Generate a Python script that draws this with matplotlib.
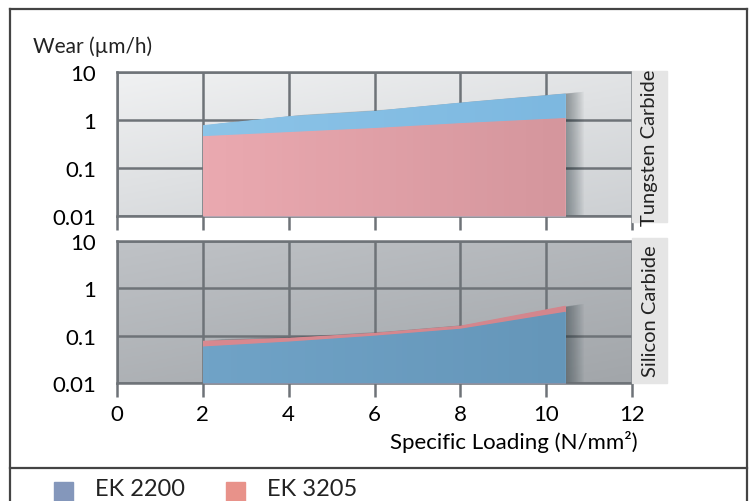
import numpy as np
import matplotlib.pyplot as plt
import matplotlib as mpl
from matplotlib.patches import Rectangle
from matplotlib.lines import Line2D

mpl.rcParams.update({
    "font.family": ["Lato", "DejaVu Sans"],
    "font.size": 15,
    "text.color": "#222222",
})

# ---- data ----
load = [2, 4, 6, 8, 10.45]
series_names = ["EK 2200", "EK 3205"]
panel_names = ["Tungsten Carbide", "Silicon Carbide"]

tc_ek2200 = [0.78, 1.2, 1.55, 2.3, 3.55]
tc_ek3205 = [0.46, 0.56, 0.68, 0.86, 1.1]

sic_ek2200 = [0.059, 0.075, 0.1, 0.14, 0.32]
sic_ek3205 = [0.078, 0.09, 0.115, 0.163, 0.43]

x_ticks = [0, 2, 4, 6, 8, 10, 12]
y_ticks = [0.01, 0.1, 1, 10]
y_ticklabels = ["0.01", "0.1", "1", "10"]

legend_colors = ["#8497bb", "#e8928a"]

# ---- figure ----
W, H = 749, 502
fig = plt.figure(figsize=(W / 100, H / 100), dpi=100)
fig.patch.set_facecolor("white")

grid_c = "#6e7378"


def fx(px):
    return px / W


def fy(py):
    return 1 - py / H


def setup_panel(ax, bg_top, bg_bot):
    # gradient background
    g = np.linspace(0, 1, 64)
    gx, gy = np.meshgrid(g, g)
    t = 0.6 * gy + 0.4 * gx
    cmap = mpl.colors.LinearSegmentedColormap.from_list("bg", [bg_top, bg_bot])
    ax.imshow(t, cmap=cmap, extent=[0, 1, 0, 1], transform=ax.transAxes,
              aspect="auto", zorder=0, origin="upper")
    ax.set_yscale("log")
    ax.set_xlim(0, 12)
    ax.set_ylim(0.01, 10)
    ax.set_xticks(x_ticks)
    ax.set_yticks(y_ticks)
    ax.set_yticklabels(y_ticklabels)
    ax.yaxis.set_minor_locator(mpl.ticker.NullLocator())
    ax.grid(True, color=grid_c, lw=1.8, zorder=1)
    for s in ["top", "left", "bottom"]:
        ax.spines[s].set_color(grid_c)
        ax.spines[s].set_linewidth(1.8)
    ax.spines["right"].set_visible(False)
    ax.tick_params(axis="x", direction="out", length=10, width=1.8, color=grid_c,
                   labelsize=16, pad=5)
    ax.tick_params(axis="y", length=0, labelsize=16, pad=15)


def shadow(ax, x, y):
    xs = np.array(x, dtype=float)
    for k in range(1, 16):
        ax.fill_between(xs + k * 0.028, 0.01, np.array(y) * (1 + 0.008 * k),
                        color="#1a2a30", alpha=0.03, lw=0, zorder=2)


def grad_area(ax, x, y, c_left, c_right, z):
    poly = ax.fill_between(x, 0.01, y, color=c_left, lw=0, zorder=z)
    cmap = mpl.colors.LinearSegmentedColormap.from_list("a", [c_left, c_right])
    img = ax.imshow(np.linspace(0, 1, 64)[None, :], cmap=cmap, aspect="auto",
                    extent=[x[0] / 12, x[-1] / 12, 0, 1], transform=ax.transAxes,
                    zorder=z + 0.1)
    img.set_clip_path(poly.get_paths()[0], poly.get_transform())
    return poly


# top panel: tungsten carbide
ax1 = fig.add_axes([fx(117), fy(217), fx(632 - 117), (217 - 73) / H])
setup_panel(ax1, "#f0f1f2", "#cdd0d3")
shadow(ax1, load, tc_ek2200)
grad_area(ax1, load, tc_ek2200, "#8cc4e8", "#7db8e0", 3)
grad_area(ax1, load, tc_ek3205, "#eaa9b0", "#d5969d", 4)
ax1.tick_params(axis="x", labelbottom=False)

# bottom panel: silicon carbide
ax2 = fig.add_axes([fx(117), fy(384), fx(632 - 117), (384 - 242) / H])
setup_panel(ax2, "#bfc2c6", "#a2a6aa")
shadow(ax2, load, sic_ek3205)
grad_area(ax2, load, sic_ek3205, "#d98990", "#d3868d", 3)
grad_area(ax2, load, sic_ek2200, "#70a3c7", "#6596b9", 4)
ax2.set_xticklabels([str(v) for v in x_ticks])
ax2.set_xlabel("Specific Loading (N/mm\u00b2)", fontsize=16)
ax2.xaxis.set_label_coords(1.01, -0.41)
ax2.xaxis.label.set_horizontalalignment("right")
ax2.xaxis.label.set_verticalalignment("center")

# side label strips
for (y0, y1), name in zip([(72, 223), (239, 384)], panel_names):
    fig.patches.append(Rectangle((fx(632), fy(y1)), fx(667 - 632), (y1 - y0) / H,
                                 transform=fig.transFigure, color="#e5e5e5",
                                 zorder=0))
    fig.text(fx(650), fy((y0 + y1) / 2), name, rotation=90, ha="center",
             va="center", fontsize=14.5)

fig.text(fx(33), fy(47), "Wear (\u00b5m/h)", ha="left", va="center", fontsize=15)

# outer frame
frame_c = "#444444"
for xs, ys in [([10, 10], [10, 502]), ([747, 747], [10, 502]),
               ([10, 747], [10, 10]), ([10, 747], [469, 469])]:
    fig.add_artist(Line2D([fx(v) for v in xs], [fy(v) for v in ys],
                          color=frame_c, lw=1.6, transform=fig.transFigure))

# legend
x_pos = [54, 226]
for xp, name, col in zip(x_pos, series_names, legend_colors):
    fig.patches.append(Rectangle((fx(xp), fy(503)), fx(19), 20 / H,
                                 transform=fig.transFigure, color=col))
    fig.text(fx(xp + 41), fy(490), name, ha="left", va="center", fontsize=17)

fig.savefig("out.png", dpi=100)
